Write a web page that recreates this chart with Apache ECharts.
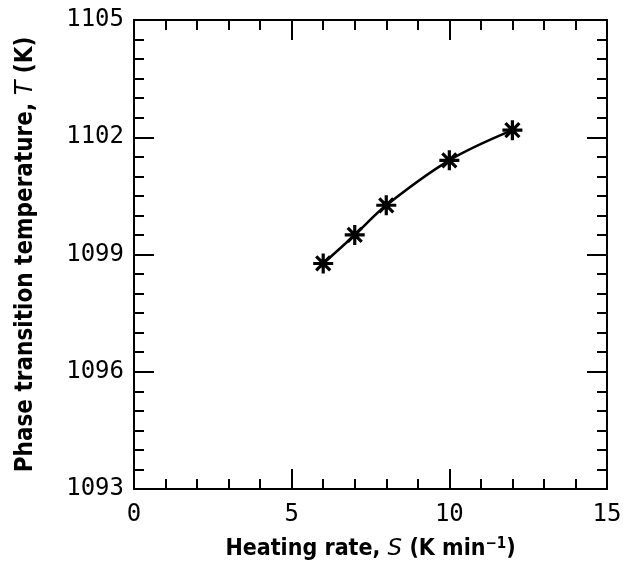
<!DOCTYPE html>
<html><head><meta charset="utf-8">
<script src="https://cdn.jsdelivr.net/npm/echarts@6/dist/echarts.min.js"></script>
<style>html,body{margin:0;padding:0;background:#fff}#c{width:630px;height:572px}</style>
</head><body><div id="c"></div>
<script>
const heatingRate = [6, 7, 8, 10, 12];
const temperature = [1098.77, 1099.50, 1100.26, 1101.41, 1102.18];
const xTicks = [0, 5, 10, 15];
const yTicks = [1093, 1096, 1099, 1102, 1105];

const asterisk = 'path://M8.4 0L11.6 0L11.6 20L8.4 20Z M0 8.4L20 8.4L20 11.6L0 11.6Z ' +
  'M4.13 1.87L18.13 15.87L15.87 18.13L1.87 4.13Z M15.87 1.87L18.13 4.13L4.13 18.13L1.87 15.87Z';

const tickFont = {fontFamily: 'DejaVu Sans Mono', fontSize: 24, color: '#000'};
const nameFontX = {fontFamily: 'DejaVu Sans Condensed', fontWeight: 'bold', fontSize: 23, color: '#000'};
const nameFontY = {fontFamily: 'DejaVu Sans Condensed', fontWeight: 'bold', fontSize: 24, color: '#000'};

function xAx(pos, showLabel) {
  return {
    type: 'value', position: pos, min: xTicks[0], max: xTicks[xTicks.length-1], interval: 5,
    axisLine: {show: true, onZero: false, lineStyle: {color: '#000', width: 2}},
    axisTick: {show: true, inside: true, length: 20, lineStyle: {color: '#000', width: 2}},
    minorTick: {show: true, splitNumber: 5, length: 10, lineStyle: {color: '#000', width: 2}},
    splitLine: {show: false},
    axisLabel: Object.assign({show: showLabel, margin: 14, formatter: v => String(v)}, tickFont),
    name: showLabel ? 'Heating rate, {i|S} (K min{s|−1})' : '',
    nameLocation: 'middle', nameGap: 48,
    nameTextStyle: Object.assign({rich: {
      i: Object.assign({}, nameFontX, {fontStyle: 'italic', fontWeight: 'normal', fontFamily: 'DejaVu Sans'}),
      s: Object.assign({}, nameFontX, {fontSize: 15, verticalAlign: 'top', padding: [0,0,10,0]})
    }}, nameFontX)
  };
}
function yAx(pos, showLabel) {
  return {
    type: 'value', position: pos, min: yTicks[0], max: yTicks[yTicks.length-1], interval: 3,
    axisLine: {show: true, onZero: false, lineStyle: {color: '#000', width: 2}},
    axisTick: {show: true, inside: true, length: 20, lineStyle: {color: '#000', width: 2}},
    minorTick: {show: true, splitNumber: 6, length: 10, lineStyle: {color: '#000', width: 2}},
    splitLine: {show: false},
    axisLabel: Object.assign({show: showLabel, margin: 10, formatter: v => String(v)}, tickFont),
    name: showLabel ? 'Phase transition temperature, {i|T} (K)' : '',
    nameLocation: 'middle', nameGap: 96,
    nameTextStyle: Object.assign({rich: {
      i: Object.assign({}, nameFontY, {fontStyle: 'italic', fontWeight: 'normal', fontFamily: 'DejaVu Sans'})
    }}, nameFontY)
  };
}

const chart = echarts.init(document.getElementById('c'), null, {renderer: 'canvas'});
chart.setOption({
  backgroundColor: '#fff',
  animation: false,
  grid: {left: 134, right: 23, top: 20, bottom: 83, containLabel: false},
  xAxis: [xAx('bottom', true), xAx('top', false)],
  yAxis: [yAx('left', true), yAx('right', false)],
  series: [{
    type: 'line', xAxisIndex: 0, yAxisIndex: 0,
    data: heatingRate.map((x, i) => [x, temperature[i]]),
    smooth: 0.35,
    lineStyle: {color: '#000', width: 2.5},
    symbol: asterisk, symbolSize: 20,
    itemStyle: {color: '#000'}
  }]
});
</script></body></html>
